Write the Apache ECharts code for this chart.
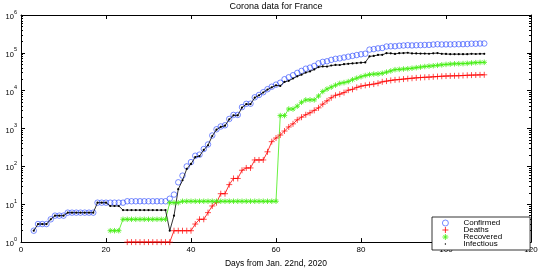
<!DOCTYPE html>
<html><head><meta charset="utf-8">
<script src="https://cdn.jsdelivr.net/npm/echarts@6/dist/echarts.min.js"></script>
<style>html,body{margin:0;padding:0;background:#fff}#c{width:545px;height:273px}</style>
</head><body><div id="c"></div>
<script>
const chartTitle = 'Corona data for France';
const xAxisTitle = 'Days from Jan. 22nd, 2020';
const seriesNames = ['Confirmed', 'Deaths', 'Recovered', 'Infectious'];
const xTickValues = [0, 20, 40, 60, 80, 100, 120];
const yTickExponents = [0, 1, 2, 3, 4, 5, 6];

// first day (days from Jan. 22nd, 2020) of each series, then one value per day
const confirmedStart = 3;
const confirmed = [2,3,3,3,4,5,5,5,6,6,6,6,6,6,6,11,11,11,11,11,11,11,12,12,12,12,12,12,12,12,12,12,
  14,18,38,57,100,130,191,204,288,380,656,957,1136,1219,1794,2293,2293,3681,4496,4532,6683,7715,9124,10970,12758,
  14463,16243,20123,22622,25600,29551,33402,38105,40708,45170,52827,57749,59929,65202,69500,71412,75343,79163,83057,
  87366,91738,94863,121712,125394,131361,134582,147091,149130,149149,154097,156480,159297,157125,158851,159952,
  161644,162220,165963,169053,166543,167299,167305,168518,168925,169583,170687,174191,174224,176202,176782];

const deathsStart = 25;
const deaths = [1,1,1,1,1,1,1,1,1,1,1,2,2,2,2,2,3,4,4,6,9,11,19,19,33,48,48,79,91,91,148,148,148,243,450,562,
  674,860,1100,1331,1696,1995,2314,2606,3024,3523,4403,5387,6507,7560,8078,8911,10328,10869,12210,13197,13832,
  14393,14967,15729,17167,17920,18681,19323,19718,20265,20796,21340,21856,22245,22614,22856,23293,23660,24087,
  24376,24594,24760,24895,25201,25531,25809,25987,26230,26310];

const recoveredStart = 21;
const recovered = [2,2,2,4,4,4,4,4,4,4,4,4,4,4,11,11,11,12,12,12,12,12,12,12,12,12,12,12,12,12,12,12,12,12,12,12,12,12,12,12,
  2200,2200,3281,3281,3900,4948,5700,5724,5724,7226,9513,11053,12428,14008,15572,16349,17428,19523,21452,23413,
  25195,26663,27469,27718,28805,30955,33327,35983,36587,37409,38035,39181,40657,42088,43493,44594,45513,46886,
  48228,49476,50562,51371,51654,51977,52736,53972,55027,55782,56038];

const infectiousStart = 3;
const infectious = [2,3,3,3,4,5,5,5,6,6,6,6,6,6,6,11,11,11,9,9,9,7,7,7,7,7,7,7,7,7,7,7,
  2,5,25,43,86,116,176,188,272,362,635,934,1105,1188,1749,2233,2233,3590,4393,4429,6523,7555,8964,10715,12296,13889,
  13369,17063,18241,20988,23955,26459,30091,32378,36422,42078,43833,43489,46267,47932,47762,50083,51407,52665,
  53704,55128,55836,80656,82958,87914,88610,98216,97122,93843,97792,98806,100466,96604,96338,95619,95537,94770,
  97157,98507,94228,93447,92149,92387,92376,92405,92420,94410,93210,94190,94434];

function pairs(start, arr) { return arr.map((v, i) => [start + i, v]); }

const FONT = '"Liberation Sans", Arial, Helvetica, sans-serif';
const plusPath = 'path://M0,5L10,5M5,0L5,10';
const starPath = 'path://M5,0L5,10M0,5L10,5M1.6,1.6L8.4,8.4M1.6,8.4L8.4,1.6';
const ringPath = 'path://M0,5A5,5 0 1,0 10,5A5,5 0 1,0 0,5Z';
const dotLegendPath = 'path://M0,0L0.01,0M9.99,10L10,10M3.8,5A1.2,1.2 0 1,0 6.2,5A1.2,1.2 0 1,0 3.8,5Z';

const minorTicks = [];
for (let n = 0; n < 6; n++) for (let k = 2; k <= 9; k++) minorTicks.push(n + Math.log10(k));

const BLUE = '#2a48ff', RED = '#ff0000', GREEN = '#44ee11', BLACK = '#000000';
const NOFILL = 'rgba(0,0,0,0)';

const chart = echarts.init(document.getElementById('c'), null, {renderer: 'canvas'});
const yBase = {type: 'value', min: 0, max: 6, interval: 1, splitLine: {show: false}};
chart.setOption({
  animation: false,
  backgroundColor: '#fff',
  title: {
    text: chartTitle, left: 276, top: 2, textAlign: 'center', padding: 0,
    textStyle: {fontFamily: FONT, fontSize: 9, fontWeight: 'normal', color: '#000'}
  },
  grid: {left: 21, right: 14, top: 15, bottom: 21, containLabel: false},
  legend: {
    orient: 'vertical', left: 432, top: 217,
    data: [
      {name: 'Confirmed', icon: ringPath, itemStyle: {color: NOFILL, borderColor: BLUE, borderWidth: 0.8}},
      {name: 'Deaths', icon: plusPath, itemStyle: {color: NOFILL, borderColor: RED, borderWidth: 0.8}},
      {name: 'Recovered', icon: starPath, itemStyle: {color: NOFILL, borderColor: GREEN, borderWidth: 0.8}},
      {name: 'Infectious', icon: dotLegendPath, itemStyle: {color: BLACK, borderWidth: 0}}
    ],
    itemWidth: 6, itemHeight: 6, itemGap: -1,
    padding: [2, 28, 2, 10],
    borderColor: '#000', borderWidth: 0.8, borderRadius: 0,
    backgroundColor: '#fff',
    textStyle: {fontFamily: FONT, fontSize: 8, color: '#000', lineHeight: 7, padding: [0, 0, 0, 10]},
    selectedMode: false
  },
  xAxis: [
    {type: 'value', min: 0, max: 120, interval: 20, position: 'bottom',
     name: xAxisTitle, nameLocation: 'middle', nameGap: 14,
     nameTextStyle: {fontFamily: FONT, fontSize: 8.5, color: '#000'},
     axisLine: {onZero: false, lineStyle: {color: '#000', width: 1}},
     axisTick: {inside: true, length: 4, lineStyle: {color: '#000'}},
     axisLabel: {fontFamily: FONT, fontSize: 8, color: '#000', margin: 4},
     splitLine: {show: false}},
    {type: 'value', min: 0, max: 120, interval: 20, position: 'top',
     axisLine: {onZero: false, lineStyle: {color: '#000', width: 1}},
     axisTick: {inside: true, length: 4, lineStyle: {color: '#000'}},
     axisLabel: {show: false}, splitLine: {show: false}}
  ],
  yAxis: [
    {type: 'log', logBase: 10, min: 1, max: 1e6, position: 'left',
     axisLine: {show: true, onZero: false, lineStyle: {color: '#000', width: 1}},
     axisTick: {show: false}, axisLabel: {show: false}, splitLine: {show: false}, minorSplitLine: {show: false}},
    Object.assign({}, yBase, {position: 'left',
     axisLine: {show: false, onZero: false},
     axisTick: {inside: true, length: 4, lineStyle: {color: '#000'}},
     axisLabel: {margin: 4, formatter: v => '{b|10}{e|' + yTickExponents[Math.round(v)] + '}',
       rich: {b: {fontFamily: FONT, fontSize: 7.5, color: '#000', lineHeight: 12, verticalAlign: 'bottom'},
              e: {fontFamily: FONT, fontSize: 5.5, color: '#000', lineHeight: 12, verticalAlign: 'top'}}}}),
    Object.assign({}, yBase, {position: 'left',
     axisLine: {show: false, onZero: false},
     axisTick: {inside: true, length: 2, customValues: minorTicks, lineStyle: {color: '#000'}},
     axisLabel: {show: false}}),
    Object.assign({}, yBase, {position: 'right',
     axisLine: {show: true, onZero: false, lineStyle: {color: '#000', width: 1}},
     axisTick: {inside: true, length: 4, lineStyle: {color: '#000'}},
     axisLabel: {show: false}}),
    Object.assign({}, yBase, {position: 'right',
     axisLine: {show: false, onZero: false},
     axisTick: {inside: true, length: 2, customValues: minorTicks, lineStyle: {color: '#000'}},
     axisLabel: {show: false}})
  ],
  series: [
    {name: seriesNames[0], type: 'scatter', xAxisIndex: 0, yAxisIndex: 0,
     data: pairs(confirmedStart, confirmed), symbol: ringPath, symbolSize: 5.5,
     itemStyle: {color: NOFILL, borderColor: BLUE, borderWidth: 0.8}},
    {name: seriesNames[1], type: 'line', xAxisIndex: 0, yAxisIndex: 0,
     data: pairs(deathsStart, deaths), symbol: plusPath, symbolSize: 6, showAllSymbol: true,
     lineStyle: {color: RED, width: 0.8}, itemStyle: {color: RED, borderColor: RED, borderWidth: 0.7}},
    {name: seriesNames[2], type: 'line', xAxisIndex: 0, yAxisIndex: 0,
     data: pairs(recoveredStart, recovered), symbol: starPath, symbolSize: 5.5, showAllSymbol: true,
     lineStyle: {color: GREEN, width: 0.8}, itemStyle: {color: GREEN, borderColor: GREEN, borderWidth: 0.8}},
    {name: seriesNames[3], type: 'line', xAxisIndex: 0, yAxisIndex: 0,
     data: pairs(infectiousStart, infectious), symbol: 'circle', symbolSize: 2.2, showAllSymbol: true,
     lineStyle: {color: BLACK, width: 0.8}, itemStyle: {color: BLACK, borderWidth: 0}}
  ]
});
</script>
</body></html>
